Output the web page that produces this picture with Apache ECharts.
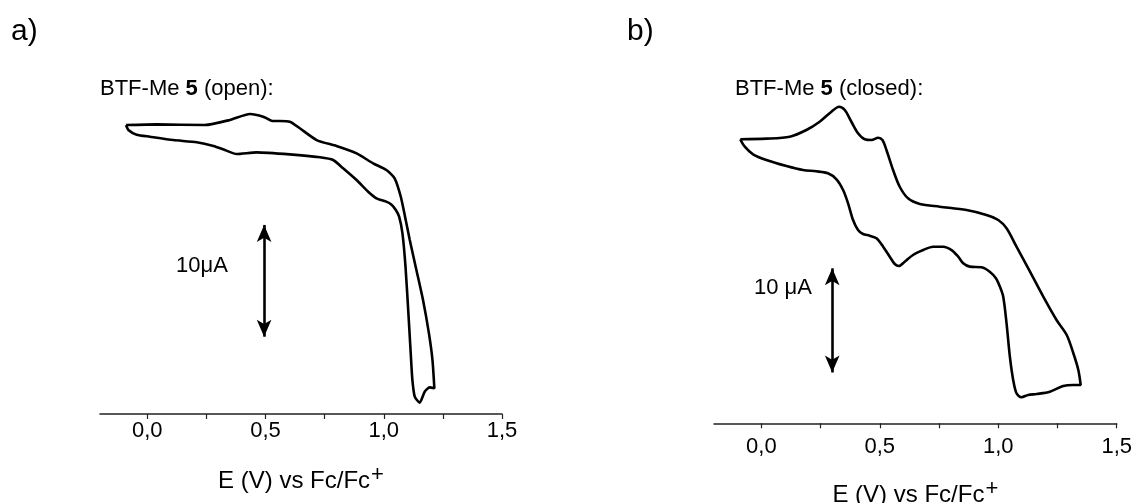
<!DOCTYPE html>
<html>
<head>
<meta charset="utf-8">
<script src="https://cdn.jsdelivr.net/npm/echarts@6/dist/echarts.min.js"></script>
<style>
html,body{margin:0;padding:0;background:#fff;}
#c{width:1136px;height:503px;}
</style>
</head>
<body>
<div id="c"></div>
<script>
// ---- Data (E in V vs Fc/Fc+, current in µA, arbitrary zero) ----
const aE = [-0.090,0.040,0.244,0.349,0.434,0.490,0.525,0.603,0.645,0.716,0.800,0.885,0.955,1.011,1.046,1.072,1.090,1.110,1.138,1.166,1.191,1.206,1.214,
            1.194,1.173,1.152,1.131,1.121,1.114,1.105,1.092,1.079,1.065,1.051,1.033,1.008,0.969,0.934,0.885,0.828,0.786,0.730,0.603,0.462,0.378,0.328,0.280,0.209,0.110,0.011,-0.045,-0.080,-0.090];
const aI = [25.80,25.86,25.80,26.25,26.79,26.55,26.19,26.10,25.51,24.46,23.93,23.27,22.38,21.79,21.04,19.40,17.62,15.54,12.86,10.18,7.20,4.82,2.29,
            2.38,1.99,1.01,1.55,3.04,5.42,8.69,13.15,16.13,17.62,18.21,18.69,18.98,19.26,19.85,20.89,21.94,22.68,22.92,23.18,23.36,23.21,23.57,23.93,24.26,24.46,24.76,24.94,25.36,25.80];

const bE = [-0.089,0.021,0.120,0.190,0.246,0.296,0.328,0.352,0.380,0.408,0.436,0.465,0.493,0.511,0.528,0.556,0.584,0.619,0.669,0.753,0.866,0.950,1.000,1.035,1.077,1.134,1.190,1.246,1.289,1.317,1.338,1.348,
            1.317,1.274,1.218,1.162,1.126,1.098,1.077,1.063,1.049,1.035,1.021,1.007,0.990,0.964,0.929,0.880,0.852,0.831,0.803,0.767,0.725,0.683,0.640,0.605,0.581,0.563,0.542,0.514,0.486,0.457,0.429,0.408,0.387,0.366,0.345,0.317,0.281,0.232,0.176,0.106,0.021,-0.035,-0.070,-0.089];
const bI = [27.05,27.11,27.30,27.93,28.72,29.68,30.15,29.84,28.72,27.62,27.05,26.98,27.20,26.98,26.03,24.12,22.53,21.43,20.89,20.63,20.31,19.84,19.36,18.57,16.82,14.44,12.06,9.84,8.41,6.67,5.08,3.65,
            3.65,3.55,3.01,2.79,2.70,2.48,2.86,4.13,6.35,9.52,12.06,13.01,13.81,14.44,14.86,14.92,15.24,15.87,16.50,16.82,16.82,16.50,16.03,15.39,14.98,15.17,15.87,16.82,17.62,17.87,18.03,18.41,19.36,20.95,22.22,23.24,23.81,24.00,24.12,24.50,25.08,25.62,26.35,27.05];

const tickValues = [0, 0.25, 0.5, 0.75, 1.0, 1.25, 1.5];
const labelValues = [0, 0.5, 1.0, 1.5];
// scale bars (10 µA): [E, I_start, I_end]
const aScale = [0.494, 6.90, 16.88];
const bScale = [0.299, 4.84, 14.76];

const FONT = "'Liberation Sans', Arial, sans-serif";
const zip = (xs, ys) => xs.map((x, i) => [x, ys[i]]);
const fmt = v => v.toFixed(1).replace('.', ',');

function xAxisCfg(gridIndex, labelMargin, nameGap) {
  return {
    type: 'value', gridIndex, min: -0.2, max: 1.5,
    axisLine: { show: true, onZero: false, lineStyle: { color: '#222', width: 1.5 } },
    axisTick: { show: true, inside: false, length: 5, customValues: tickValues, lineStyle: { color: '#222', width: 1.2 } },
    axisLabel: { show: true, customValues: labelValues, formatter: fmt, margin: labelMargin, color: '#000', fontSize: 22, fontFamily: FONT },
    splitLine: { show: false },
    name: '{n|E (V) vs Fc/Fc}{s|+}',
    nameLocation: 'middle', nameGap,
    nameTextStyle: {
      color: '#000', fontFamily: FONT,
      rich: {
        n: { fontSize: 24, lineHeight: 34, color: '#000', fontFamily: FONT },
        s: { fontSize: 22, lineHeight: 20, verticalAlign: 'top', color: '#000', fontFamily: FONT, padding: [0, 0, 0, 1] }
      }
    }
  };
}

function yAxisCfg(gridIndex, max) {
  return { type: 'value', gridIndex, min: 0, max, show: false, splitLine: { show: false } };
}

function curve(idx, data, scale, smooth) {
  return {
    type: 'line', xAxisIndex: idx, yAxisIndex: idx,
    data, showSymbol: false, symbol: 'none', smooth,
    lineStyle: { color: '#000', width: 2.6 },
    silent: true, animation: false,
    markLine: {
      silent: true, animation: false,
      symbol: ['arrow', 'arrow'], symbolSize: [11, 17],
      lineStyle: { color: '#000', width: 2.6, type: 'solid' },
      label: { show: false },
      data: [[{ coord: [scale[0], scale[1]] }, { coord: [scale[0], scale[2]] }]]
    }
  };
}

function titleRich(left, top, label) {
  return {
    left, top, padding: 0,
    text: '{n|BTF-Me }{b|5}{n| (' + label + '):}',
    textStyle: {
      fontWeight: 'normal',
      rich: {
        n: { fontSize: 22, color: '#000', fontWeight: 'normal', fontFamily: FONT },
        b: { fontSize: 22, color: '#000', fontWeight: 'bold', fontFamily: FONT }
      }
    }
  };
}

const chart = echarts.init(document.getElementById('c'), null, { renderer: 'canvas' });
chart.setOption({
  backgroundColor: '#fff',
  animation: false,
  title: [
    { text: 'a)', left: 11, top: 17, padding: 0, textStyle: { fontSize: 30, fontWeight: 'normal', color: '#000', fontFamily: FONT } },
    titleRich(100, 78, 'open'),
    { text: 'b)', left: 627, top: 17, padding: 0, textStyle: { fontSize: 30, fontWeight: 'normal', color: '#000', fontFamily: FONT } },
    titleRich(735, 78, 'closed')
  ],
  grid: [
    { left: 100, right: 634, top: 78, bottom: 89, outerBoundsMode: 'none' },
    { left: 714, right: 19.3, top: 87.3, bottom: 79.7, outerBoundsMode: 'none' }
  ],
  xAxis: [xAxisCfg(0, 6, 50), xAxisCfg(1, 12.4, 55)],
  yAxis: [yAxisCfg(0, 30), yAxisCfg(1, 32)],
  series: [curve(0, zip(aE, aI), aScale, 0.2), curve(1, zip(bE, bI), bScale, 0.3)],
  graphic: [
    { type: 'text', left: 176, top: 255, style: { text: '10μA', fontSize: 22, fill: '#000', fontFamily: FONT } },
    { type: 'text', left: 754, top: 277, style: { text: '10 μA', fontSize: 22, fill: '#000', fontFamily: FONT } }
  ]
});
</script>
</body>
</html>
